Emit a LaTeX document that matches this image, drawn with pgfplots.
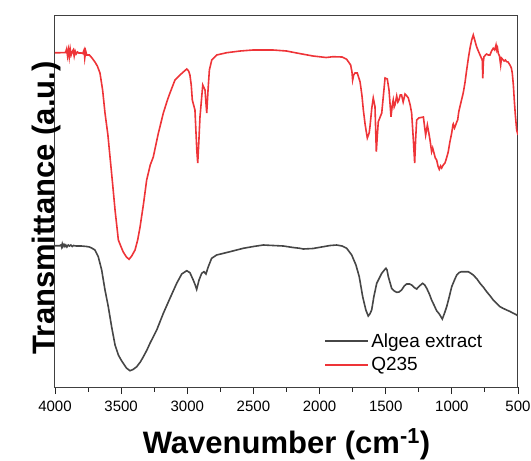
\documentclass[border=0pt]{standalone}
\usepackage{pgfplots}
\pgfplotsset{compat=1.18}
\usepackage{fontspec}
\setmainfont{Liberation Sans}
\definecolor{qred}{RGB}{238,52,56}
\definecolor{agray}{RGB}{70,70,70}
\begin{document}
\begin{tikzpicture}
\begin{axis}[
  at={(0pt,0pt)}, anchor=south west,
  scale only axis, width=463pt, height=372pt,
  x dir=reverse, xmin=500, xmax=4000,
  y dir=reverse, ymin=15, ymax=387,
  ytick=\empty,
  xtick={500,1000,...,4000},
  minor x tick num=1,
  xtick pos=bottom,
  tick align=outside,
  major tick length=7pt, minor tick length=4.5pt,
  every tick/.style={line width=0.9pt, black!85},
  axis line style={line width=1pt, black!75},
  /pgf/number format/assume math mode=true,
  xticklabel style={font=\fontsize{15}{15}\selectfont, /pgf/number format/1000 sep={}, yshift=-3pt},
  xlabel={\textbf{Wavenumber (cm\textsuperscript{-1})}},
  xlabel style={font=\fontsize{31}{31}\selectfont, at={(axis description cs:0.5,0)}, anchor=base, yshift=-66pt},
  ylabel={\textbf{Transmittance (a.u.)}},
  ylabel style={font=\fontsize{31}{31}\selectfont, at={(axis description cs:0,0.53)}, anchor=base, xshift=-18pt},
  legend style={at={(axis description cs:0.582,0.15)}, anchor=north west, draw=none, fill=none,
    font=\fontsize{19}{19}\selectfont, inner sep=0pt, row sep=5pt},
  legend cell align=left,
]
\addlegendimage{agray, line width=1.6pt, legend image code/.code={\draw[agray, line width=1.6pt] (0pt,0pt) -- (43pt,0pt);}}
\addlegendentry{Algea extract}
\addlegendimage{qred, line width=1.6pt, legend image code/.code={\draw[qred, line width=1.6pt] (0pt,0pt) -- (43pt,0pt);}}
\addlegendentry{Q235}
\addplot[agray, line width=1.6pt, forget plot] coordinates {
(4000,245.7)(3965,245.7)(3955,245)(3950,247)(3945,244)(3940,246.5)(3932,244.5)(3925,246.5)(3918,245)(3910,247)(3900,245)(3890,246)(3880,245)(3870,246.5)(3860,245.5)(3840,246)(3800,246)(3760,246.5)(3740,247)(3723,248)(3698,250)(3673,256.7)(3647,270)(3622,290)(3597,306.7)(3572,326.7)(3546,345)(3521,355)(3500,360)(3484,363.3)(3460,368)(3433,370.7)(3410,369.5)(3382,366.7)(3355,362)(3332,356.7)(3305,350)(3282,343.3)(3231,330)(3181,313.3)(3131,298.3)(3080,283.3)(3042,274)(3004,270.7)(2980,272.7)(2955,280)(2940,285)(2929,289.3)(2911,280)(2891,273.3)(2874,271.7)(2859,274)(2841,266.7)(2816,258.3)(2778,255)(2677,251.7)(2577,248.3)(2500,246.5)(2425,245)(2350,245.5)(2274,246)(2200,247.5)(2148,248.3)(2123,249)(2050,248.5)(1972,246.7)(1920,245.5)(1871,245)(1830,246)(1795,248.3)(1757,255)(1725,265)(1700,276.7)(1674,296.7)(1650,310)(1632,316)(1620,314)(1606,310)(1590,297)(1568,283.3)(1530,273.3)(1510,270)(1498,268.3)(1490,270)(1480,276.7)(1455,288.3)(1435,291)(1417,292.3)(1400,292)(1380,290)(1360,286)(1342,284)(1320,284)(1304,285)(1285,287.5)(1266,289)(1245,286)(1221,283.3)(1205,285)(1190,288.3)(1170,294)(1153,300)(1135,305)(1115,310.7)(1095,314)(1072,319)(1055,313)(1039,306.7)(1020,297)(1001,286.7)(980,280)(963,275)(945,272.5)(926,271.7)(900,271.7)(876,271.7)(860,273)(838,275)(810,279)(787,283.3)(760,287.5)(737,291.7)(710,296)(687,300)(660,303.5)(636,306.7)(610,308.5)(586,310)(560,311.5)(535,313.3)(515,314.5)(500,316)
};
\addplot[qred, line width=1.6pt, forget plot] coordinates {
(4000,52.7)(3960,52.7)(3920,52.5)(3912,49)(3905,56)(3898,50)(3892,57)(3885,49)(3878,55)(3870,52)(3862,50)(3855,56)(3848,51)(3840,54)(3830,52)(3820,53)(3800,53)(3790,53.5)(3780,50)(3775,58)(3768,51)(3760,55)(3740,55)(3720,58)(3698,62)(3680,66)(3660,73)(3640,90)(3622,113)(3600,135)(3584,157)(3565,183)(3546,210)(3521,240)(3500,247)(3484,252)(3460,257)(3440,259.3)(3420,256)(3395,250)(3375,240)(3357,227)(3330,203)(3307,180)(3280,165)(3257,157)(3220,134)(3181,113)(3150,100)(3131,93)(3093,80)(3055,75)(3030,72)(3004,69)(2990,71)(2980,75)(2970,85)(2962,100)(2942,110)(2935,130)(2928,150)(2921,163)(2912,140)(2904,117)(2883,85)(2866,90)(2853,113)(2843,90)(2833,70)(2815,60)(2778,55)(2702,52.7)(2600,51)(2503,50)(2352,50)(2250,51)(2173,53)(2050,56)(1950,57.5)(1898,56.7)(1830,57)(1795,59.3)(1765,65)(1755,72)(1750,80)(1742,75)(1732,73)(1715,73)(1694,81.7)(1680,95)(1669,110)(1655,125)(1639,138)(1625,133)(1619,126.7)(1605,108)(1594,98)(1581,106.7)(1571,151.7)(1563,135)(1556,121.7)(1530,113)(1517,95)(1505,78)(1488,79)(1475,90)(1460,116.7)(1450,105)(1443,100)(1436,107)(1430,105)(1417,96)(1408,102)(1400,100)(1390,95)(1380,95)(1368,102)(1354,94)(1340,96)(1329,98)(1315,105)(1304,113)(1298,125)(1291,140)(1281,163)(1274,140)(1266,120)(1250,118)(1241,117.7)(1215,117)(1205,128)(1198,135)(1185,125)(1178,130)(1165,140)(1153,151.7)(1145,148)(1135,153)(1125,158)(1115,160)(1105,166)(1095,169.3)(1085,166)(1077,168)(1065,165)(1052,163)(1040,158)(1027,151.7)(1015,142)(1001,133)(992,125)(989,124)(980,128)(971,125)(963,122)(956,120)(948,112)(939,106.7)(925,99)(914,93)(900,82)(888,70)(875,58)(863,48.3)(850,40)(838,35)(825,41)(813,46.7)(800,51)(787,55)(770,60)(766,78.3)(762,62)(757,56.7)(745,55)(737,54)(725,55)(712,55)(700,51)(687,48.3)(676,50)(666,45)(660,50)(655,48)(649,53.3)(640,56)(631,65)(625,58)(616,59.3)(605,61)(595,60)(586,61.7)(575,62)(561,65)(550,68)(543,73.3)(535,85)(528,100)(520,115)(510,130)(500,135)
};
\end{axis}
\pgfresetboundingbox
\path (-55pt,-74pt) rectangle (476pt,387pt);
\end{tikzpicture}
\end{document}
